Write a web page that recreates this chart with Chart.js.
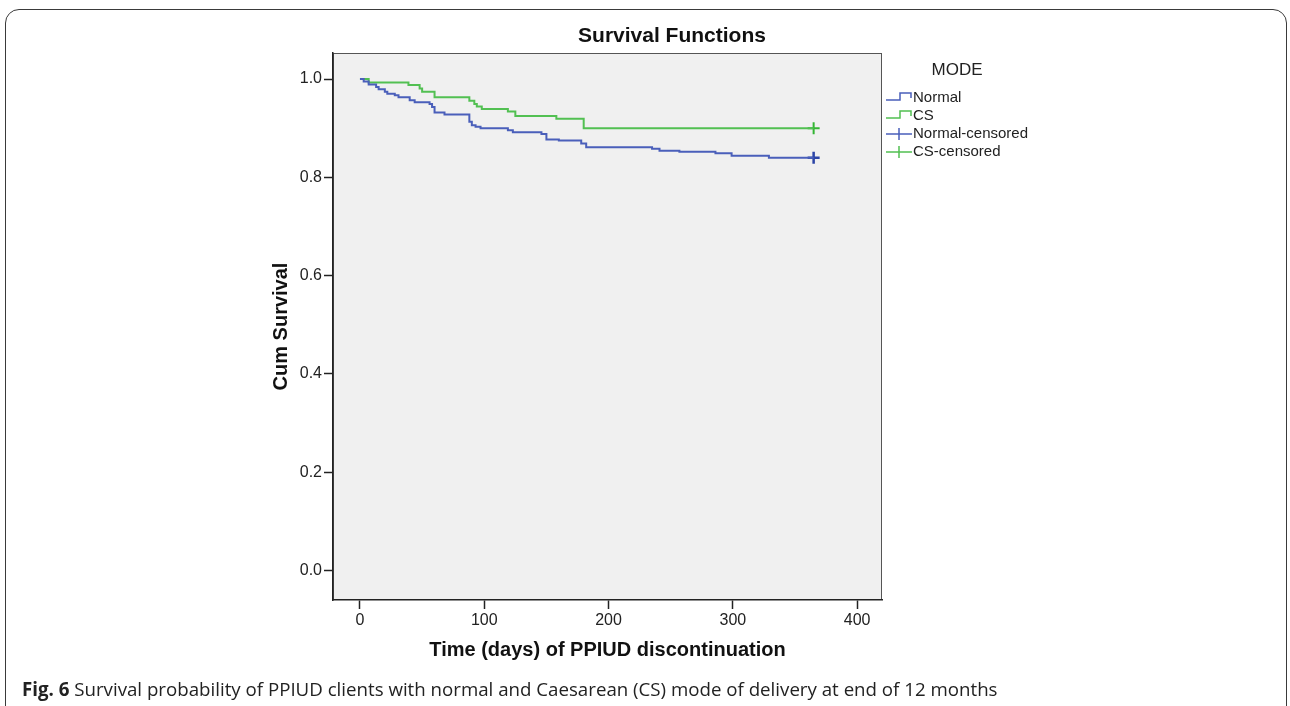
<!DOCTYPE html>
<html lang="en">
<head>
    <meta charset="UTF-8">
    <title>Survival Functions</title>
    <script src="https://cdn.jsdelivr.net/npm/chart.js"></script>
    <style>
        * {
            margin: 0;
            padding: 0;
            box-sizing: border-box;
        }

        body {
            background: #fff;
            width: 1290px;
            height: 706px;
            overflow: hidden;
            position: relative;
        }

        #frame {
            position: absolute;
            left: 5px;
            top: 9px;
            width: 1282px;
            height: 730px;
            border: 1.5px solid #3a3a3a;
            border-radius: 14px;
        }

        #chart {
            position: absolute;
            left: 0;
            top: 0;
            display: block;
        }

        #caption {
            position: absolute;
            left: 22px;
            top: 676px;
            font-family: "Open Sans", sans-serif;
            font-size: 18.7px;
            color: #222;
            white-space: nowrap;
        }
    </style>
</head>
<body>
    <div id="frame"></div>
    <canvas id="chart" width="1290" height="706"></canvas>
    <div id="caption"><b>Fig. 6</b> Survival probability of PPIUD clients with normal and Caesarean (CS) mode of delivery at end of 12 months</div>
    <script>
        // Kaplan-Meier steps (time in days, cumulative survival)
        const normalTime = [0, 3, 7, 13, 15, 20, 22, 28, 31, 40, 44, 56, 58, 60, 68, 88, 90, 93, 97, 119, 123, 146, 150, 160, 178, 182, 235, 241, 257, 286, 299, 329, 365];
        const normalSurv = [1.000, 0.995, 0.989, 0.984, 0.979, 0.974, 0.970, 0.967, 0.963, 0.957, 0.953, 0.949, 0.943, 0.932, 0.928, 0.913, 0.906, 0.903, 0.900, 0.896, 0.892, 0.888, 0.877, 0.875, 0.869, 0.861, 0.858, 0.854, 0.852, 0.849, 0.844, 0.840, 0.840];

        const csTime = [0, 7, 39, 48, 50, 60, 88, 92, 94, 98, 119, 125, 158, 180, 365];
        const csSurv = [1.000, 0.993, 0.988, 0.981, 0.974, 0.963, 0.956, 0.949, 0.944, 0.939, 0.934, 0.925, 0.919, 0.900, 0.900];

        // censored observations
        const normalCensTime = [365];
        const normalCensSurv = [0.840];
        const csCensTime = [365];
        const csCensSurv = [0.900];

        const xTicks = [0, 100, 200, 300, 400];
        const yTicks = [0.0, 0.2, 0.4, 0.6, 0.8, 1.0];
        const legendTitle = "MODE";
        const legendLabels = ["Normal", "CS", "Normal-censored", "CS-censored"];

        const blue = "#4a5fba";
        const green = "#52c052";
        const blueDark = "#2b44a6";
        const greenDark = "#33b533";

        const toPoints = (xs, ys) => xs.map((x, i) => ({ x: x, y: ys[i] }));

        // grey background + frame of the plot area
        const plotFrame = {
            id: "plotFrame",
            beforeDraw(chart) {
                const { ctx, chartArea: a } = chart;
                ctx.save();
                ctx.fillStyle = "#f0f0f0";
                ctx.fillRect(a.left, a.top, a.right - a.left, a.bottom - a.top);
                ctx.strokeStyle = "#555";
                ctx.lineWidth = 1;
                ctx.strokeRect(a.left + 0.5, a.top + 0.5, a.right - a.left - 1, a.bottom - a.top - 1);
                ctx.restore();
            }
        };

        // SPSS-style title and legend
        const spssDecor = {
            id: "spssDecor",
            afterDraw(chart) {
                const { ctx, chartArea: a } = chart;
                ctx.save();
                ctx.fillStyle = "#111";
                ctx.font = "bold 21px 'Liberation Sans', Arial, sans-serif";
                ctx.textAlign = "center";
                ctx.textBaseline = "middle";
                ctx.fillText("Survival Functions", 672, 36);

                const lx = a.right + 4;
                ctx.font = "17px 'Liberation Sans', Arial, sans-serif";
                ctx.fillStyle = "#222";
                ctx.fillText(legendTitle, lx + 71, 70);

                ctx.textAlign = "left";
                ctx.font = "15px 'Liberation Sans', Arial, sans-serif";
                const colors = [blue, green, blue, green];
                legendLabels.forEach((label, i) => {
                    const y = 98 + i * 18;
                    ctx.strokeStyle = colors[i];
                    ctx.lineWidth = 1.5;
                    ctx.beginPath();
                    if (i < 2) {
                        ctx.moveTo(lx, y + 2);
                        ctx.lineTo(lx + 14, y + 2);
                        ctx.lineTo(lx + 14, y - 5);
                        ctx.lineTo(lx + 25, y - 5);
                        ctx.lineTo(lx + 25, y);
                    } else {
                        ctx.moveTo(lx, y);
                        ctx.lineTo(lx + 26, y);
                        ctx.moveTo(lx + 13, y - 6);
                        ctx.lineTo(lx + 13, y + 6);
                    }
                    ctx.stroke();
                    ctx.fillStyle = "#222";
                    ctx.fillText(label, lx + 27, y);
                });
                ctx.restore();
            }
        };

        const tickFont = { family: "'Liberation Sans', Arial, sans-serif", size: 16 };
        const titleFont = { family: "'Liberation Sans', Arial, sans-serif", size: 20, weight: "bold", lineHeight: 1.2 };

        new Chart(document.getElementById("chart"), {
            type: "line",
            data: {
                datasets: [
                    {
                        label: "Normal",
                        data: toPoints(normalTime, normalSurv),
                        borderColor: blue,
                        borderWidth: 2,
                        stepped: true,
                        pointRadius: 0
                    },
                    {
                        label: "CS",
                        data: toPoints(csTime, csSurv),
                        borderColor: green,
                        borderWidth: 2,
                        stepped: true,
                        pointRadius: 0
                    },
                    {
                        label: "Normal-censored",
                        data: toPoints(normalCensTime, normalCensSurv),
                        showLine: false,
                        pointStyle: "cross",
                        pointRadius: 6,
                        pointBorderWidth: 2.5,
                        borderColor: blueDark
                    },
                    {
                        label: "CS-censored",
                        data: toPoints(csCensTime, csCensSurv),
                        showLine: false,
                        pointStyle: "cross",
                        pointRadius: 6,
                        pointBorderWidth: 2,
                        borderColor: greenDark
                    }
                ]
            },
            options: {
                responsive: false,
                animation: false,
                layout: { padding: { left: 269, top: 53, right: 408, bottom: 44 } },
                plugins: {
                    legend: { display: false },
                    title: { display: false },
                    tooltip: { enabled: false }
                },
                scales: {
                    x: {
                        type: "linear",
                        min: -21.7,
                        max: 420,
                        afterBuildTicks: s => { s.ticks = xTicks.map(v => ({ value: v })); },
                        afterFit: s => { s.height = 62; },
                        ticks: { font: tickFont, color: "#222", padding: 2, maxRotation: 0 },
                        grid: { drawOnChartArea: false, drawTicks: true, tickLength: 9, tickWidth: 1.5, tickColor: "#222" },
                        border: { display: true, color: "#222", width: 1.5 },
                        title: { display: true, text: "Time (days) of PPIUD discontinuation", font: titleFont, color: "#111", padding: 0 }
                    },
                    y: {
                        min: -0.060,
                        max: 1.053,
                        afterBuildTicks: s => { s.ticks = yTicks.map(v => ({ value: v })); },
                        afterFit: s => { s.width = 64; },
                        ticks: { font: tickFont, color: "#222", padding: 2, callback: v => Number(v).toFixed(1) },
                        grid: { drawOnChartArea: false, drawTicks: true, tickLength: 9, tickWidth: 1.5, tickColor: "#222" },
                        border: { display: true, color: "#222", width: 1.5 },
                        title: { display: true, text: "Cum Survival", font: titleFont, color: "#111", padding: 0 }
                    }
                }
            },
            plugins: [plotFrame, spssDecor]
        });
    </script>
</body>
</html>
